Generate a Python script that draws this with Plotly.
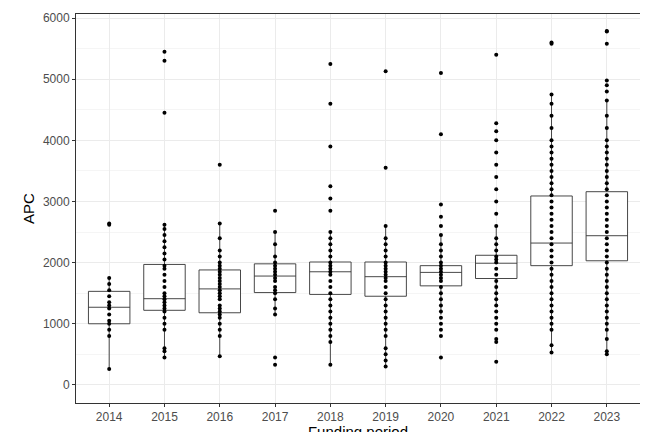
import plotly.graph_objects as go

years = ["2014","2015","2016","2017","2018","2019","2020","2021","2022","2023"]
q1 = [1000,1220,1180,1510,1480,1450,1620,1740,1950,2030]
med = [1270,1410,1570,1780,1850,1770,1840,1990,2320,2440]
q3 = [1530,1970,1880,1980,2010,2010,1950,2120,3090,3160]
lo = [260,450,470,1150,330,300,1150,1300,530,500]
hi = [1760,2620,2640,2500,2500,2600,2450,2600,4750,4650]

points = {
 "2014":[260,800,900,1000,1050,1150,1250,1300,1350,1450,1550,1650,1750,2620,2640],
 "2015":[450,550,600,900,1000,1100,1200,1250,1300,1350,1400,1450,1500,1600,1700,1800,1900,1950,2050,2150,2250,2350,2450,2550,2620,4450,5300,5450],
 "2016":[470,800,900,1000,1100,1150,1200,1250,1300,1400,1450,1500,1550,1600,1650,1700,1750,1800,1850,1900,1950,2000,2100,2200,2400,2640,3600],
 "2017":[330,450,1150,1250,1400,1500,1550,1600,1700,1750,1800,1850,1900,1950,2000,2100,2300,2500,2850],
 "2018":[330,700,800,900,1000,1100,1200,1300,1400,1500,1600,1700,1800,1850,1900,1950,2000,2100,2200,2300,2400,2500,2850,3050,3250,3900,4600,5250],
 "2019":[300,400,500,600,800,900,1000,1100,1200,1300,1400,1500,1600,1700,1750,1800,1850,1900,1950,2000,2100,2200,2300,2400,2600,3550,5130],
 "2020":[450,800,900,1000,1100,1200,1300,1400,1500,1600,1700,1750,1800,1850,1900,1950,2000,2100,2200,2300,2450,2600,2750,2950,4100,5100],
 "2021":[380,700,750,900,1000,1100,1200,1300,1400,1500,1600,1700,1800,1900,2000,2050,2100,2200,2300,2400,2600,2800,3000,3200,3400,3600,3800,4000,4150,4280,5400],
 "2022":[530,650,900,1000,1100,1200,1300,1400,1500,1600,1700,1800,1900,2000,2100,2200,2300,2400,2500,2600,2700,2800,2900,3000,3100,3200,3300,3400,3500,3600,3700,3800,3900,4000,4200,4400,4600,4750,5580,5600],
 "2023":[500,550,750,900,1000,1100,1200,1300,1400,1500,1600,1700,1800,1900,2000,2100,2200,2300,2400,2500,2600,2700,2800,2900,3000,3100,3200,3300,3400,3500,3600,3700,3800,3900,4000,4200,4400,4650,4800,4900,4980,5580,5780,5790],
}

fig = go.Figure()
for i, y in enumerate(years):
    fig.add_trace(go.Box(x=[i+1], q1=[q1[i]], median=[med[i]], q3=[q3[i]],
                         lowerfence=[lo[i]], upperfence=[hi[i]], width=0.75,
                         fillcolor="white", line=dict(color="#333333", width=0.9),
                         boxpoints=False, showlegend=False, whiskerwidth=0))
    fig.add_trace(go.Scatter(x=[i+1]*len(points[y]), y=points[y], mode="markers",
                             marker=dict(color="black", size=4), showlegend=False))

fig.update_layout(width=648, height=432, plot_bgcolor="white", paper_bgcolor="white",
                  margin=dict(l=68, r=16, t=6, b=37, autoexpand=False),
                  font=dict(family="Liberation Sans", color="#4d4d4d", size=12))
fig.update_xaxes(range=[0.4, 10.6], tickvals=list(range(1, 11)), ticktext=years,
                 showgrid=True, gridcolor="#ebebeb", mirror=True, showline=True,
                 linecolor="#333333", ticks="outside", ticklen=3, tickcolor="#333333",
                 title=dict(text="Funding period", font=dict(size=15, color="black"), standoff=2),
                 zeroline=False, automargin=False)
fig.update_yaxes(range=[-296, 6066], tickvals=list(range(0, 7000, 1000)),
                 showgrid=True, gridcolor="#ebebeb", mirror=True, showline=True,
                 linecolor="#333333", ticks="outside", ticklen=3, tickcolor="#333333",
                 minor=dict(tickvals=list(range(500, 6000, 1000)), showgrid=True, gridcolor="#f5f5f5"),
                 title=dict(text="APC", font=dict(size=15, color="black"), standoff=4),
                 zeroline=False, automargin=False)
fig.write_html("out.html")
